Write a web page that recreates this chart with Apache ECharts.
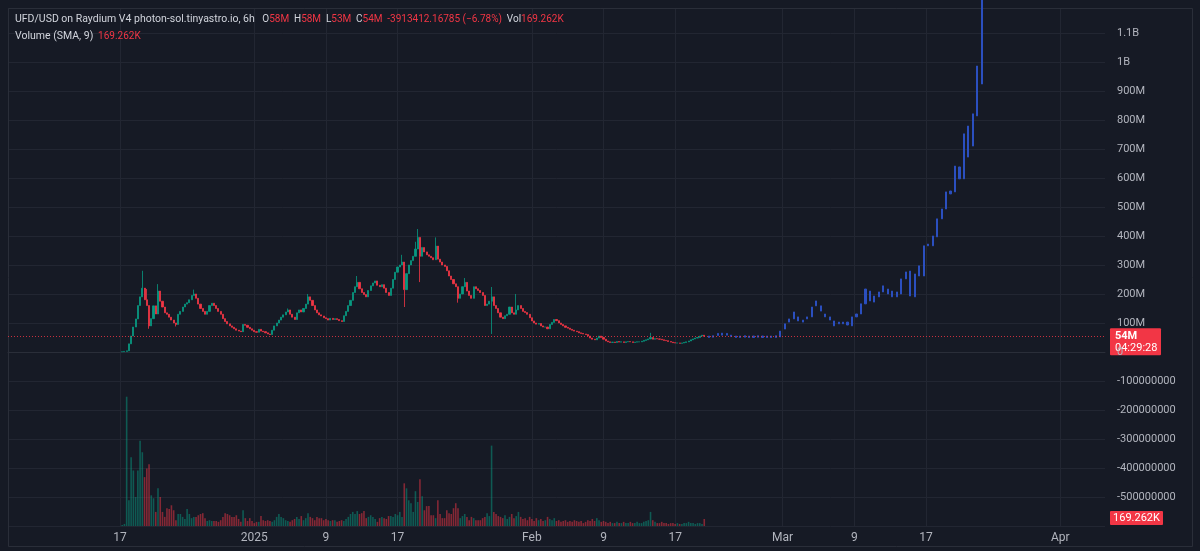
<!DOCTYPE html>
<html>
<head>
<meta charset="utf-8">
<title>UFD/USD 6h</title>
<script src="https://cdn.jsdelivr.net/npm/echarts@6/dist/echarts.min.js"></script>
<style>
  html, body { margin: 0; padding: 0; background: #161a25; }
  #chart { width: 1200px; height: 551px; }
</style>
</head>
<body>
<div id="chart"></div>
<script>
// time axis: 6h slots, first slot Dec 4 2024 12:00 UTC
const startTime = Date.UTC(2024, 11, 4, 12);
const slotCount = 491;
const candleStart = 51;          // slot of first candle (Dec 17 06:00)

// prices in millions of USD, one close per 6h candle (open = previous close)
const firstOpen = 1;
const closes = [
  1, 2, 4, 28, 55, 86, 114, 160, 190, 220,
  180, 160, 90, 115, 159, 131, 210, 175, 155, 135,
  130, 120, 110, 100, 95, 130, 140, 155, 165, 170,
  180, 195, 200, 185, 165, 150, 140, 130, 140, 160,
  168, 160, 150, 140, 130, 115, 105, 97, 90, 85,
  80, 75, 72, 70, 95, 92, 85, 80, 75, 70,
  68, 78, 72, 70, 66, 62, 60, 75, 90, 100,
  110, 120, 128, 138, 145, 130, 120, 112, 135, 145,
  138, 150, 165, 190, 178, 160, 145, 135, 128, 124,
  118, 115, 110, 116, 112, 115, 112, 108, 105, 125,
  140, 160, 178, 205, 225, 240, 218, 205, 198, 190,
  212, 228, 238, 245, 230, 225, 232, 220, 205, 195,
  220, 250, 275, 293, 300, 310, 215, 270, 300, 315,
  330, 355, 395, 330, 360, 345, 335, 330, 325, 318,
  365, 320, 310, 300, 295, 280, 262, 250, 235, 225,
  185, 200, 225, 240, 210, 195, 185, 225, 218, 212,
  205, 195, 160, 165, 175, 190, 160, 150, 135, 120,
  115, 125, 130, 155, 135, 130, 145, 160, 150, 140,
  136, 130, 118, 107, 100, 96, 98, 90, 86, 86,
  80, 95, 102, 112, 108, 100, 95, 90, 85, 82,
  78, 75, 72, 70, 66, 64, 62, 60, 55, 48,
  44, 42, 48, 55, 50, 44, 38, 35, 33, 34,
  33, 36, 34, 35, 33, 35, 36, 35, 33, 34,
  35, 35, 37, 40, 42, 45, 50, 44, 46, 45,
  44, 42, 40, 39, 36, 34, 32, 31, 31, 30,
  31, 33, 35, 38, 42, 45, 48, 50, 55, 57.7,
  54
];
// visible wicks [candle index, value]
const wickHigh = [
  [9, 280], [10, 217], [11, 217], [16, 234], [32, 215], [74, 150], [83, 200],
  [105, 262], [125, 335], [131, 380], [132, 424], [140, 395], [153, 255],
  [165, 224], [176, 200], [236, 66], [260, 58]
];
const wickLow = [
  [12, 80], [24, 88], [126, 155], [133, 241], [150, 170], [165, 62], [260, 53]
];

// volume in thousands, one per candle
const volumes = [
  25, 50, 3120, 620, 1660, 1340, 700, 1340, 2060, 1780,
  1180, 1390, 1490, 740, 670, 340, 910, 700, 340, 220,
  430, 410, 500, 380, 140, 290, 290, 220, 170, 410,
  290, 190, 220, 220, 260, 290, 310, 190, 120, 140,
  120, 120, 120, 100, 140, 220, 310, 290, 260, 220,
  220, 260, 170, 100, 380, 190, 120, 190, 120, 70,
  100, 100, 240, 140, 120, 140, 120, 100, 140, 220,
  290, 220, 190, 140, 120, 100, 140, 170, 220, 170,
  240, 140, 190, 310, 220, 190, 140, 220, 190, 190,
  140, 170, 140, 120, 140, 140, 100, 120, 140, 120,
  170, 220, 290, 340, 290, 360, 290, 310, 360, 190,
  220, 260, 220, 170, 100, 190, 220, 190, 170, 240,
  240, 220, 290, 260, 340, 220, 1030, 910, 620, 550,
  340, 840, 580, 1130, 720, 380, 480, 480, 260, 260,
  190, 620, 290, 190, 190, 380, 310, 290, 430, 550,
  430, 190, 240, 290, 220, 140, 220, 190, 140, 140,
  140, 190, 220, 310, 240, 1940, 340, 290, 240, 220,
  190, 260, 170, 220, 290, 190, 240, 340, 220, 170,
  190, 140, 220, 170, 120, 190, 140, 170, 120, 140,
  220, 170, 140, 190, 120, 140, 100, 120, 140, 100,
  120, 100, 140, 120, 100, 120, 70, 100, 140, 120,
  170, 120, 190, 140, 100, 120, 100, 70, 100, 70,
  70, 100, 70, 70, 100, 70, 70, 100, 70, 70,
  100, 70, 70, 100, 120, 140, 340, 140, 100, 70,
  70, 100, 70, 70, 50, 70, 70, 50, 70, 50,
  50, 70, 70, 100, 70, 70, 50, 70, 70, 50,
  169.262
];

// blue bars pattern drawing (high-low bars), millions
const projStart = 313;
const projStep = 2;
const projLow = [
  50, 51, 57, 58, 58, 53, 50, 50, 51, 50,
  50, 51, 50, 50, 50, 50, 52, 79, 103, 114,
  107, 103, 114, 121, 159, 141, 121, 110, 90, 97,
  97, 93, 90, 121, 131, 166, 176, 172, 190, 207,
  200, 190, 190, 200, 252, 193, 190, 262, 262, 366,
  366, 397, 459, 493, 545, 552, 597, 597, 672, 710,
  814, 924
];
const projHigh = [
  55, 56, 64, 65, 64, 58, 55, 55, 56, 55,
  55, 56, 55, 55, 55, 56, 72, 97, 114, 138,
  121, 110, 121, 155, 176, 159, 131, 121, 107, 103,
  103, 103, 121, 131, 166, 217, 210, 193, 207, 228,
  217, 210, 207, 252, 276, 279, 269, 297, 366, 372,
  400, 459, 493, 552, 555, 641, 638, 752, 779, 821,
  986, 1250
];

const timeTicks = ['2024-12-17', '2025-01-01', '2025-01-09', '2025-01-17', '2025-02-01',
  '2025-02-09', '2025-02-17', '2025-03-01', '2025-03-09', '2025-03-17', '2025-04-01'];
const timeTickLabels = ['17', '2025', '9', '17', 'Feb', '9', '17', 'Mar', '9', '17', 'Apr'];

const lastClose = closes[closes.length - 1];
const lastVolume = volumes[volumes.length - 1];

const UP = '#089981';
const DOWN = '#f23645';
const BLUE = '#2b4fbf';
const TEXT = '#b2b5be';
const GRID = '#222632';
const FONT = 'Roboto, "Noto Sans", sans-serif';

const SLOT_MS = 6 * 3600 * 1000;
const slots = [];
for (let s = 0; s < slotCount; s++) {
  slots.push(new Date(startTime + s * SLOT_MS).toISOString().slice(0, 13));
}
const tickMap = {};
timeTicks.forEach((d, n) => {
  const idx = slots.indexOf(d + 'T00');
  if (idx >= 0) tickMap[idx] = timeTickLabels[n];
});
const isTick = (index) => tickMap[index] !== undefined;

const highMap = Object.fromEntries(wickHigh);
const lowMap = Object.fromEntries(wickLow);

const candleData = [];
const volumeData = [];
closes.forEach((c, i) => {
  const o = i === 0 ? firstOpen : closes[i - 1];
  const h = highMap[i] !== undefined ? highMap[i] : Math.max(o, c);
  const l = lowMap[i] !== undefined ? lowMap[i] : Math.min(o, c);
  candleData.push([candleStart + i, o, c, l, h]);
  volumeData.push({
    value: [candleStart + i, volumes[i]],
    itemStyle: { color: c >= o ? 'rgba(8,153,129,0.5)' : 'rgba(242,54,69,0.5)' }
  });
});

const projData = projLow.map((lo, k) => [projStart + projStep * k, lo, projHigh[k], lo, projHigh[k]]);

function priceLabel(v) {
  if (v >= 1000) return (v / 1000) + 'B';
  if (v > 0) return v + 'M';
  if (v < 0) return String(Math.round(v * 1e6));
  return '0';
}

const chart = echarts.init(document.getElementById('chart'));

const option = {
  animation: false,
  backgroundColor: '#161a25',
  grid: { left: 8, right: 95, top: 8, bottom: 25 },
  xAxis: {
    type: 'category',
    data: slots,
    boundaryGap: false,
    axisLine: { show: true, lineStyle: { color: '#2a2e39' } },
    axisTick: { show: false },
    axisLabel: {
      interval: (index) => isTick(index),
      formatter: (value, index) => tickMap[index] || '',
      color: TEXT,
      fontSize: 12,
      fontFamily: FONT,
      margin: 6
    },
    splitLine: { show: true, interval: (index) => isTick(index), lineStyle: { color: GRID } }
  },
  yAxis: [
    {
      type: 'value',
      position: 'right',
      min: -600,
      max: 1186,
      interval: 100,
      axisLine: { show: false },
      axisTick: { show: false },
      axisLabel: {
        color: TEXT,
        fontSize: 11,
        fontFamily: FONT,
        margin: 12,
        showMaxLabel: false,
        showMinLabel: false,
        formatter: priceLabel
      },
      splitLine: { lineStyle: { color: GRID } }
    },
    {
      type: 'value',
      show: false,
      min: 0,
      max: 12500
    }
  ],
  series: [
    {
      name: 'Volume',
      type: 'bar',
      yAxisIndex: 1,
      barWidth: 1.6,
      data: volumeData,
      z: 1
    },
    {
      name: 'UFD/USD',
      type: 'candlestick',
      barWidth: 1.6,
      encode: { x: 0, y: [1, 2, 3, 4] },
      itemStyle: {
        color: UP, color0: DOWN, borderColor: UP, borderColor0: DOWN, borderWidth: 0.8
      },
      data: candleData,
      markLine: {
        silent: true,
        symbol: ['none', 'none'],
        label: { show: false },
        lineStyle: { color: DOWN, type: [1, 2], width: 1, opacity: 0.8 },
        data: [{ yAxis: lastClose }]
      },
      z: 3
    },
    {
      name: 'Pattern',
      type: 'candlestick',
      barWidth: 1.6,
      encode: { x: 0, y: [1, 2, 3, 4] },
      itemStyle: {
        color: BLUE, color0: BLUE, borderColor: BLUE, borderColor0: BLUE, borderWidth: 1
      },
      data: projData,
      z: 4
    }
  ]
};

chart.setOption(option);

// header legend and price scale tags
const priceY = chart.convertToPixel({ yAxisIndex: 0 }, lastClose);
const volY = Math.min(chart.convertToPixel({ yAxisIndex: 1 }, lastVolume), 518);

const headRich = {
  h: { fill: '#d1d4dc', fontSize: 10.5, fontFamily: FONT },
  t: { fill: '#d1d4dc', fontSize: 10, fontFamily: FONT },
  r: { fill: DOWN, fontSize: 10, fontFamily: FONT },
  g: { fontSize: 10, padding: [0, 1] }
};

chart.setOption({
  graphic: [
    {
      type: 'rect', z: 0, silent: true,
      shape: { x: 8.5, y: 8.5, width: 1184, height: 538 },
      style: { fill: 'none', stroke: '#2a2e39', lineWidth: 1 }
    },
    {
      type: 'text', left: 15, top: 14, z: 100,
      style: {
        text: '{h|UFD/USD on Raydium V4 photon-sol.tinyastro.io, 6h}{g|  }{t|O}{r|58M}{g| }{t|H}{r|58M}{g| }{t|L}{r|53M}{g| }{t|C}{r|54M}{g| }{r|-3913412.16785 (−6.78%)}{g| }{t|Vol}{r|169.262K}',
        rich: headRich
      }
    },
    {
      type: 'text', left: 15, top: 31, z: 100,
      style: {
        text: '{h|Volume (SMA, 9)}{g| }{r|169.262K}',
        rich: headRich
      }
    },
    {
      type: 'group', z: 100,
      children: [
        {
          type: 'rect', shape: { x: 1110, y: priceY - 8, width: 51, height: 27, r: 1 },
          style: { fill: DOWN }
        },
        {
          type: 'text', x: 1115, y: priceY - 6,
          style: { text: priceLabel(lastClose), fill: '#ffffff', fontSize: 11, fontWeight: 'bold', fontFamily: FONT }
        },
        {
          type: 'text', x: 1115, y: priceY + 6,
          style: { text: '04:29:28', fill: '#ffffff', fontSize: 11, fontFamily: FONT }
        }
      ]
    },
    {
      type: 'group', z: 100,
      children: [
        {
          type: 'rect', shape: { x: 1110, y: volY - 7, width: 53, height: 14, r: 1 },
          style: { fill: DOWN }
        },
        {
          type: 'text', x: 1136.5, y: volY,
          style: {
            text: lastVolume.toFixed(3) + 'K', fill: '#ffffff', fontSize: 11, fontFamily: FONT,
            align: 'center', verticalAlign: 'middle'
          }
        }
      ]
    }
  ]
});

window.addEventListener('resize', () => chart.resize());
</script>
</body>
</html>
